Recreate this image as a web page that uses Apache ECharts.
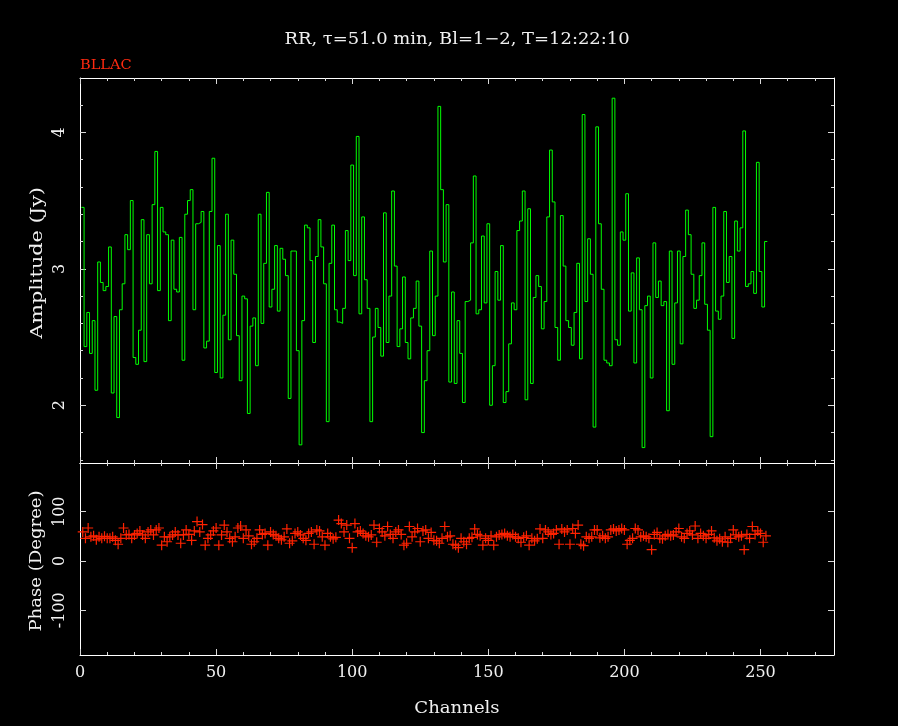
<!DOCTYPE html>
<html>
<head>
<meta charset="utf-8">
<script src="https://cdn.jsdelivr.net/npm/echarts@6/dist/echarts.min.js"></script>
<style>
html,body{margin:0;padding:0;background:#000;}
#c{width:898px;height:726px;}
</style>
</head>
<body>
<div id="c"></div>
<script>
// Amplitude (Jy) per channel, channels 1..252
const amplitude = [
3.45,2.43,2.68,2.38,2.62,2.11,3.05,2.90,2.84,2.87,
3.16,2.09,2.65,1.91,2.70,2.89,3.25,3.14,3.50,2.35,
2.30,2.55,3.36,2.32,3.25,2.89,3.47,3.86,2.84,3.45,
3.27,3.25,2.62,3.21,2.85,2.83,3.23,2.33,3.40,3.50,
3.58,2.70,3.33,3.34,3.42,2.42,2.47,3.42,3.81,2.24,
3.17,2.20,2.66,3.40,2.48,3.21,2.96,2.51,2.18,2.80,
2.78,1.94,2.58,2.64,2.29,3.40,2.60,3.04,3.56,2.72,
2.85,3.17,2.69,3.15,3.07,2.95,2.05,3.13,3.13,2.40,
1.71,2.62,3.32,3.30,3.06,2.46,3.09,3.36,3.16,2.89,
1.88,3.04,3.32,2.70,2.61,2.60,2.71,3.28,3.06,3.76,
2.95,3.97,2.67,3.38,2.92,2.71,1.88,2.50,2.71,2.57,
2.36,3.41,2.46,2.80,3.57,3.02,2.43,2.56,2.94,2.46,
2.34,2.64,2.71,2.91,2.58,1.80,2.18,2.40,3.13,2.51,
2.80,4.19,3.58,3.05,3.47,2.17,2.83,2.16,2.62,2.38,
2.02,2.76,2.77,3.19,3.68,2.67,2.70,3.24,2.75,3.33,
2.00,2.29,2.98,2.77,3.17,2.02,2.10,2.45,2.75,2.70,
3.28,3.35,3.57,2.04,3.44,2.16,2.79,2.95,2.87,2.56,
2.76,3.38,3.87,3.49,2.57,2.33,3.39,3.02,2.62,2.57,
2.44,2.68,3.04,2.34,4.13,2.76,3.22,2.96,1.84,4.04,
3.33,2.85,2.33,2.31,2.29,4.25,2.48,2.44,3.27,3.21,
3.55,2.69,2.97,2.31,3.08,2.70,1.69,2.73,2.80,2.20,
3.19,2.79,2.91,2.73,2.76,1.96,3.13,2.30,2.75,3.13,
2.45,3.09,3.43,3.25,2.96,2.71,2.77,2.95,3.19,2.74,
2.55,1.77,3.45,2.69,2.63,2.80,3.42,2.90,3.09,2.49,
3.35,3.13,3.30,4.01,2.87,2.89,2.98,2.82,3.78,2.98,
2.72,3.20
];

// Phase (Degree) per channel, channels 1..252
const phase = [
59,46,67,49,51,43,49,46,50,46,
46,49,42,34,46,67,53,54,46,53,
56,61,53,46,59,63,53,63,67,32,
49,39,49,53,59,53,36,53,63,54,
42,61,80,59,74,32,46,53,61,67,
32,53,73,59,46,39,49,67,71,46,
63,51,34,
39,46,63,54,56,32,59,54,51,46,
43,49,65,36,41,56,59,53,46,42,
56,59,34,63,61,49,32,56,49,45,
48,83,76,59,73,46,27,76,59,61,
56,51,49,53,73,38,66,59,51,70,
54,46,59,63,54,32,36,70,49,59,
66,39,61,
63,46,58,42,41,36,46,70,49,51,
34,32,27,46,39,34,46,48,65,54,
51,32,46,42,51,32,49,53,54,56,
51,49,54,49,46,38,48,51,32,46,
41,45,65,46,63,59,54,56,63,34,
65,59,63,34,66,56,73,34,31,49,
46,49,63,
63,47,51,46,49,63,65,61,63,66,
63,34,42,46,66,63,49,51,49,46,
23,54,58,46,45,51,54,51,53,59,
66,49,46,56,61,53,71,46,56,51,
46,54,61,47,41,45,39,49,38,46,
63,53,49,51,23,54,46,70,54,61,
56,38,51
];

// Tick values
const xMajorTicks = [0, 50, 100, 150, 200, 250];
const xMinorTicks = [10,20,30,40,60,70,80,90,110,120,130,140,160,170,180,190,210,220,230,240,260,270];
const ampMajorTicks = [2, 3, 4];
const ampMinorTicks = [1.6,1.8,2.2,2.4,2.6,2.8,3.2,3.4,3.6,3.8,4.2];
const phaseMajorTicks = [-100, 0, 100];

const titleText = 'RR, \u03c4=51.0 min, Bl=1\u22122, T=12:22:10';
const sourceName = 'BLLAC';
const xName = 'Channels';
const ampName = 'Amplitude (Jy)';
const phaseName = 'Phase (Degree)';

const X_MIN = 0, X_MAX = 277;
const AMP_MIN = 1.577, AMP_MAX = 4.398;
const PH_MIN = -191, PH_MAX = 199;

const FONT = 'DejaVu Serif';
const TXT = '#f0f0f0';

// step-histogram data: channel centred bins
const ampData = [];
ampData.push([0.5, amplitude[0]]);
amplitude.forEach((v, i) => ampData.push([i + 1, v]));
ampData.push([amplitude.length + 0.5, amplitude[amplitude.length - 1]]);
const phaseData = phase.map((v, i) => [i + 1, v]);

function axis(opts) {
  return {
    type: 'value',
    gridIndex: opts.grid,
    position: opts.pos,
    min: opts.min, max: opts.max,
    splitLine: {show: false},
    axisLine: {show: opts.line !== false, onZero: false, lineStyle: {color: '#ffffff', width: 1}},
    axisTick: {show: true, inside: true, length: opts.len, customValues: opts.ticks,
               lineStyle: {color: '#d8d8d8', width: 1}},
    axisLabel: {show: !!opts.labels, customValues: opts.ticks, color: TXT,
                fontFamily: FONT, fontSize: 16, margin: opts.margin || 8,
                rotate: opts.rotate || 0},
    silent: true
  };
}

function label(text, x, y, rot, sx, size, color) {
  return {type: 'text', x: x, y: y, rotation: rot, scaleX: sx, silent: true,
          style: {text: text, fill: color || TXT, font: size + 'px "' + FONT + '"',
                  textAlign: 'center', textVerticalAlign: 'middle'}};
}

const option = {
  backgroundColor: '#000000',
  animation: false,
  grid: [
    {left: 80, right: 64, top: 78, height: 385},
    {left: 80, right: 64, top: 463, height: 192}
  ],
  xAxis: [
    axis({grid: 0, pos: 'bottom', min: X_MIN, max: X_MAX, ticks: xMajorTicks, len: 6}),
    axis({grid: 0, pos: 'bottom', min: X_MIN, max: X_MAX, ticks: xMinorTicks, len: 3, line: false}),
    axis({grid: 0, pos: 'top', min: X_MIN, max: X_MAX, ticks: xMajorTicks, len: 6}),
    axis({grid: 0, pos: 'top', min: X_MIN, max: X_MAX, ticks: xMinorTicks, len: 3, line: false}),
    axis({grid: 1, pos: 'bottom', min: X_MIN, max: X_MAX, ticks: xMajorTicks, len: 6, labels: true, margin: 10}),
    axis({grid: 1, pos: 'bottom', min: X_MIN, max: X_MAX, ticks: xMinorTicks, len: 3, line: false}),
    axis({grid: 1, pos: 'top', min: X_MIN, max: X_MAX, ticks: xMajorTicks, len: 6}),
    axis({grid: 1, pos: 'top', min: X_MIN, max: X_MAX, ticks: xMinorTicks, len: 3, line: false})
  ],
  yAxis: [
    axis({grid: 0, pos: 'left', min: AMP_MIN, max: AMP_MAX, ticks: ampMajorTicks, len: 6, labels: true,
          rotate: 90, margin: 12}),
    axis({grid: 0, pos: 'left', min: AMP_MIN, max: AMP_MAX, ticks: ampMinorTicks, len: 3, line: false}),
    axis({grid: 0, pos: 'right', min: AMP_MIN, max: AMP_MAX, ticks: ampMajorTicks, len: 6}),
    axis({grid: 0, pos: 'right', min: AMP_MIN, max: AMP_MAX, ticks: ampMinorTicks, len: 3, line: false}),
    axis({grid: 1, pos: 'left', min: PH_MIN, max: PH_MAX, ticks: phaseMajorTicks, len: 6, labels: true,
          rotate: 90, margin: 12}),
    axis({grid: 1, pos: 'right', min: PH_MIN, max: PH_MAX, ticks: phaseMajorTicks, len: 6})
  ],
  graphic: [
    label(titleText, 457, 40, 0, 1.12, 16),
    {type: 'text', x: 80, y: 66, scaleX: 1.12, silent: true,
     style: {text: sourceName, fill: '#ff2a10', font: '13px "' + FONT + '"',
             textAlign: 'left', textVerticalAlign: 'middle'}},
    label(xName, 457, 709, 0, 1.13, 16),
    label(ampName, 38, 263, Math.PI / 2, 1.3, 16),
    label(phaseName, 37, 561, Math.PI / 2, 1.13, 16)
  ],
  series: [
    {
      type: 'line', name: 'amplitude', xAxisIndex: 0, yAxisIndex: 0,
      step: 'middle', showSymbol: false, symbol: 'none',
      lineStyle: {color: '#00ff00', width: 1},
      data: ampData, silent: true, clip: true
    },
    {
      type: 'scatter', name: 'phase', xAxisIndex: 4, yAxisIndex: 4,
      symbol: 'path://M0,4.4H10V5.6H0Z M4.4,0H5.6V10H4.4Z', symbolSize: 10,
      itemStyle: {color: '#ff2200', opacity: 1},
      data: phaseData, silent: true
    }
  ]
};

const chart = echarts.init(document.getElementById('c'), null, {renderer: 'canvas'});
chart.setOption(option);
</script>
</body>
</html>
